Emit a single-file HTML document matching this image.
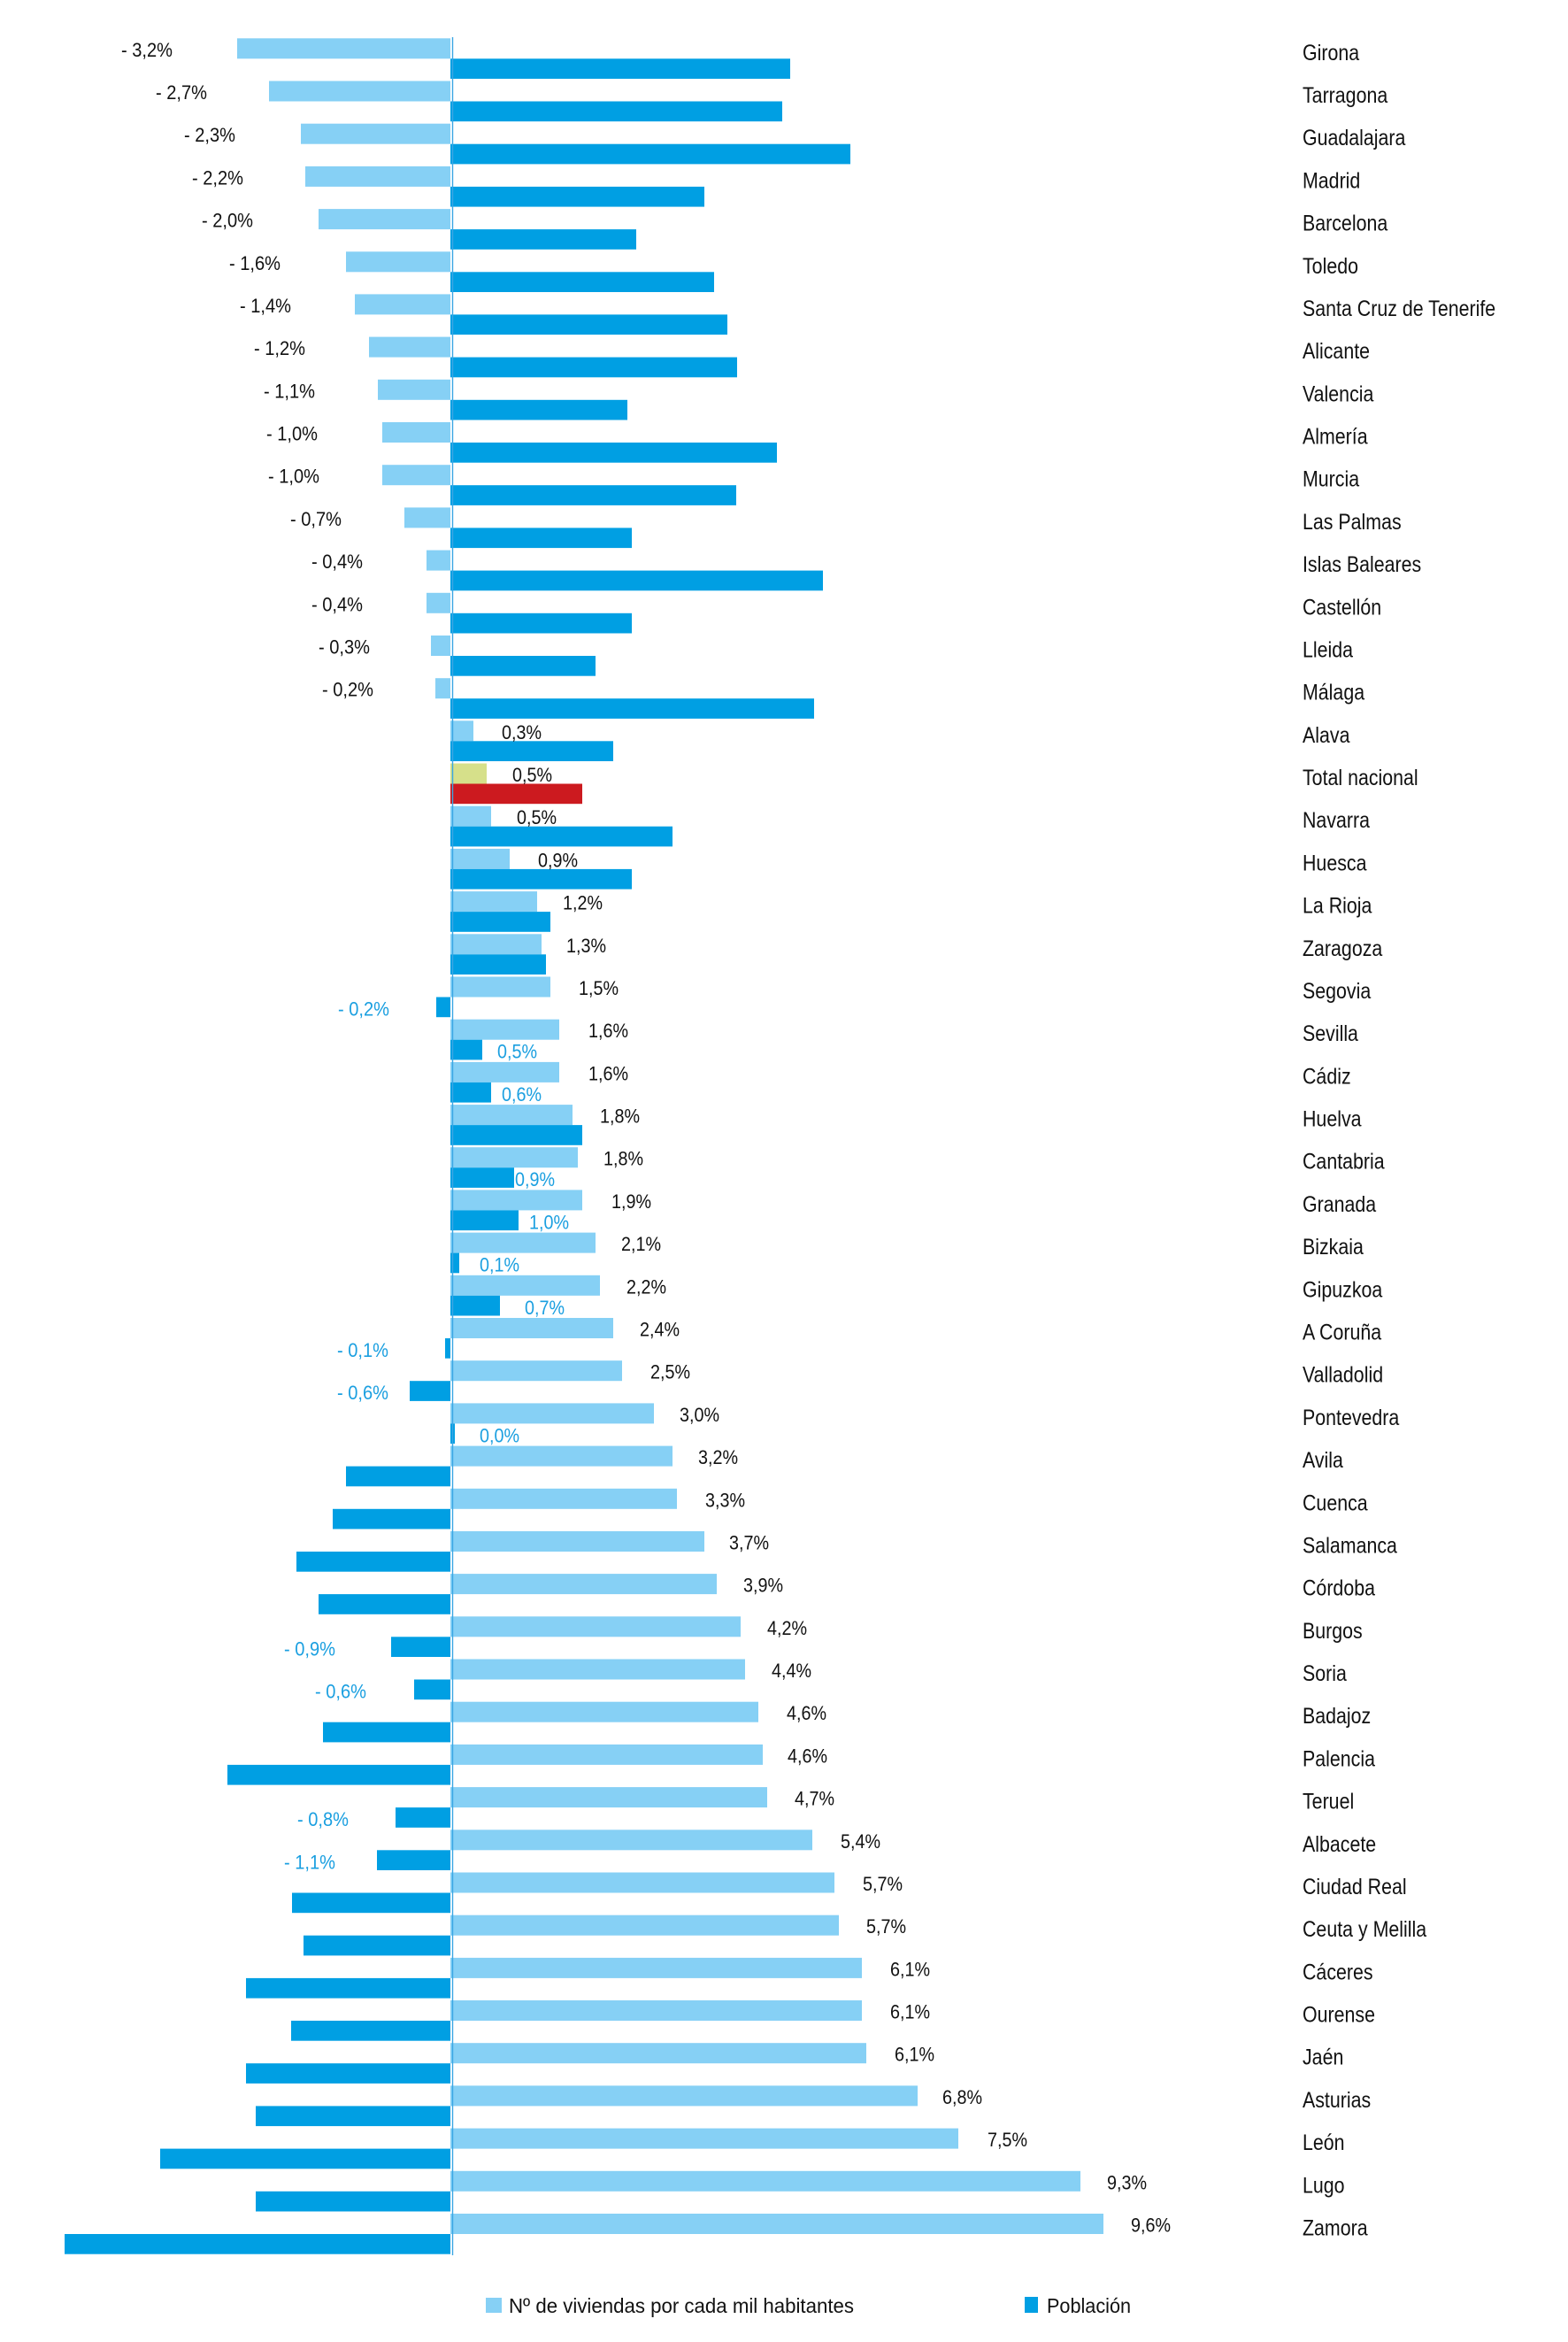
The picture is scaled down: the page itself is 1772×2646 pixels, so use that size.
<!DOCTYPE html>
<html><head><meta charset="utf-8">
<style>
html,body{margin:0;padding:0;background:#fff}
svg{display:block}
.l{fill:#86d0f5}
.d{fill:#009fe3}
.p{font-size:22px;fill:#111}
.b{font-size:22px;fill:#1a9fe0}
.c{font-size:25px;fill:#111}
</style></head>
<body>
<svg width="1772" height="2646" viewBox="0 0 1772 2646" xmlns="http://www.w3.org/2000/svg" font-family="'Liberation Sans', Arial, sans-serif">
<rect width="1772" height="2646" fill="#fff"/>

<g transform="translate(0,43.3)"><rect class="l" x="268" y="0" width="241" height="23"/><rect class="d" x="509" y="23" width="384" height="22.7"/><text class="p" x="195" y="20.5" text-anchor="end" textLength="58" lengthAdjust="spacingAndGlyphs">- 3,2%</text><text class="c" transform="translate(1472,24.5) scale(0.855,1)">Girona</text></g>
<g transform="translate(0,91.5)"><rect class="l" x="304" y="0" width="205" height="23"/><rect class="d" x="509" y="23" width="375" height="22.7"/><text class="p" x="234" y="20.5" text-anchor="end" textLength="58" lengthAdjust="spacingAndGlyphs">- 2,7%</text><text class="c" transform="translate(1472,24.5) scale(0.855,1)">Tarragona</text></g>
<g transform="translate(0,139.7)"><rect class="l" x="340" y="0" width="169" height="23"/><rect class="d" x="509" y="23" width="452" height="22.7"/><text class="p" x="266" y="20.5" text-anchor="end" textLength="58" lengthAdjust="spacingAndGlyphs">- 2,3%</text><text class="c" transform="translate(1472,24.5) scale(0.855,1)">Guadalajara</text></g>
<g transform="translate(0,187.9)"><rect class="l" x="345" y="0" width="164" height="23"/><rect class="d" x="509" y="23" width="287" height="22.7"/><text class="p" x="275" y="20.5" text-anchor="end" textLength="58" lengthAdjust="spacingAndGlyphs">- 2,2%</text><text class="c" transform="translate(1472,24.5) scale(0.855,1)">Madrid</text></g>
<g transform="translate(0,236.1)"><rect class="l" x="360" y="0" width="149" height="23"/><rect class="d" x="509" y="23" width="210" height="22.7"/><text class="p" x="286" y="20.5" text-anchor="end" textLength="58" lengthAdjust="spacingAndGlyphs">- 2,0%</text><text class="c" transform="translate(1472,24.5) scale(0.855,1)">Barcelona</text></g>
<g transform="translate(0,284.3)"><rect class="l" x="391" y="0" width="118" height="23"/><rect class="d" x="509" y="23" width="298" height="22.7"/><text class="p" x="317" y="20.5" text-anchor="end" textLength="58" lengthAdjust="spacingAndGlyphs">- 1,6%</text><text class="c" transform="translate(1472,24.5) scale(0.855,1)">Toledo</text></g>
<g transform="translate(0,332.4)"><rect class="l" x="401" y="0" width="108" height="23"/><rect class="d" x="509" y="23" width="313" height="22.7"/><text class="p" x="329" y="20.5" text-anchor="end" textLength="58" lengthAdjust="spacingAndGlyphs">- 1,4%</text><text class="c" transform="translate(1472,24.5) scale(0.855,1)">Santa Cruz de Tenerife</text></g>
<g transform="translate(0,380.6)"><rect class="l" x="417" y="0" width="92" height="23"/><rect class="d" x="509" y="23" width="324" height="22.7"/><text class="p" x="345" y="20.5" text-anchor="end" textLength="58" lengthAdjust="spacingAndGlyphs">- 1,2%</text><text class="c" transform="translate(1472,24.5) scale(0.855,1)">Alicante</text></g>
<g transform="translate(0,428.8)"><rect class="l" x="427" y="0" width="82" height="23"/><rect class="d" x="509" y="23" width="200" height="22.7"/><text class="p" x="356" y="20.5" text-anchor="end" textLength="58" lengthAdjust="spacingAndGlyphs">- 1,1%</text><text class="c" transform="translate(1472,24.5) scale(0.855,1)">Valencia</text></g>
<g transform="translate(0,477.0)"><rect class="l" x="432" y="0" width="77" height="23"/><rect class="d" x="509" y="23" width="369" height="22.7"/><text class="p" x="359" y="20.5" text-anchor="end" textLength="58" lengthAdjust="spacingAndGlyphs">- 1,0%</text><text class="c" transform="translate(1472,24.5) scale(0.855,1)">Almería</text></g>
<g transform="translate(0,525.2)"><rect class="l" x="432" y="0" width="77" height="23"/><rect class="d" x="509" y="23" width="323" height="22.7"/><text class="p" x="361" y="20.5" text-anchor="end" textLength="58" lengthAdjust="spacingAndGlyphs">- 1,0%</text><text class="c" transform="translate(1472,24.5) scale(0.855,1)">Murcia</text></g>
<g transform="translate(0,573.4)"><rect class="l" x="457" y="0" width="52" height="23"/><rect class="d" x="509" y="23" width="205" height="22.7"/><text class="p" x="386" y="20.5" text-anchor="end" textLength="58" lengthAdjust="spacingAndGlyphs">- 0,7%</text><text class="c" transform="translate(1472,24.5) scale(0.855,1)">Las Palmas</text></g>
<g transform="translate(0,621.6)"><rect class="l" x="482" y="0" width="27" height="23"/><rect class="d" x="509" y="23" width="421" height="22.7"/><text class="p" x="410" y="20.5" text-anchor="end" textLength="58" lengthAdjust="spacingAndGlyphs">- 0,4%</text><text class="c" transform="translate(1472,24.5) scale(0.855,1)">Islas Baleares</text></g>
<g transform="translate(0,669.8)"><rect class="l" x="482" y="0" width="27" height="23"/><rect class="d" x="509" y="23" width="205" height="22.7"/><text class="p" x="410" y="20.5" text-anchor="end" textLength="58" lengthAdjust="spacingAndGlyphs">- 0,4%</text><text class="c" transform="translate(1472,24.5) scale(0.855,1)">Castellón</text></g>
<g transform="translate(0,718.0)"><rect class="l" x="487" y="0" width="22" height="23"/><rect class="d" x="509" y="23" width="164" height="22.7"/><text class="p" x="418" y="20.5" text-anchor="end" textLength="58" lengthAdjust="spacingAndGlyphs">- 0,3%</text><text class="c" transform="translate(1472,24.5) scale(0.855,1)">Lleida</text></g>
<g transform="translate(0,766.2)"><rect class="l" x="492" y="0" width="17" height="23"/><rect class="d" x="509" y="23" width="411" height="22.7"/><text class="p" x="422" y="20.5" text-anchor="end" textLength="58" lengthAdjust="spacingAndGlyphs">- 0,2%</text><text class="c" transform="translate(1472,24.5) scale(0.855,1)">Málaga</text></g>

<g transform="translate(0,814.3)"><rect class="l" x="509" y="0" width="26" height="23"/><rect class="d" x="509" y="23" width="184" height="22.7"/><text class="p" x="567" y="20.5" textLength="45" lengthAdjust="spacingAndGlyphs">0,3%</text><text class="c" transform="translate(1472,24.5) scale(0.855,1)">Alava</text></g>
<g transform="translate(0,862.5)"><rect fill="#d6e08a" x="509" y="0" width="41" height="23"/><rect fill="#cc1a1f" x="509" y="23" width="149" height="22.7"/><text class="p" x="579" y="20.5" textLength="45" lengthAdjust="spacingAndGlyphs">0,5%</text><text class="c" transform="translate(1472,24.5) scale(0.855,1)">Total nacional</text></g>
<g transform="translate(0,910.7)"><rect class="l" x="509" y="0" width="46" height="23"/><rect class="d" x="509" y="23" width="251" height="22.7"/><text class="p" x="584" y="20.5" textLength="45" lengthAdjust="spacingAndGlyphs">0,5%</text><text class="c" transform="translate(1472,24.5) scale(0.855,1)">Navarra</text></g>
<g transform="translate(0,958.9)"><rect class="l" x="509" y="0" width="67" height="23"/><rect class="d" x="509" y="23" width="205" height="22.7"/><text class="p" x="608" y="20.5" textLength="45" lengthAdjust="spacingAndGlyphs">0,9%</text><text class="c" transform="translate(1472,24.5) scale(0.855,1)">Huesca</text></g>
<g transform="translate(0,1007.1)"><rect class="l" x="509" y="0" width="98" height="23"/><rect class="d" x="509" y="23" width="113" height="22.7"/><text class="p" x="636" y="20.5" textLength="45" lengthAdjust="spacingAndGlyphs">1,2%</text><text class="c" transform="translate(1472,24.5) scale(0.855,1)">La Rioja</text></g>
<g transform="translate(0,1055.3)"><rect class="l" x="509" y="0" width="103" height="23"/><rect class="d" x="509" y="23" width="108" height="22.7"/><text class="p" x="640" y="20.5" textLength="45" lengthAdjust="spacingAndGlyphs">1,3%</text><text class="c" transform="translate(1472,24.5) scale(0.855,1)">Zaragoza</text></g>
<g transform="translate(0,1103.5)"><rect class="l" x="509" y="0" width="113" height="23"/><rect class="d" x="493" y="23" width="16" height="22.7"/><text class="p" x="654" y="20.5" textLength="45" lengthAdjust="spacingAndGlyphs">1,5%</text><text class="b" x="440" y="44" text-anchor="end" textLength="58" lengthAdjust="spacingAndGlyphs">- 0,2%</text><text class="c" transform="translate(1472,24.5) scale(0.855,1)">Segovia</text></g>
<g transform="translate(0,1151.7)"><rect class="l" x="509" y="0" width="123" height="23"/><rect class="d" x="509" y="23" width="36" height="22.7"/><text class="p" x="665" y="20.5" textLength="45" lengthAdjust="spacingAndGlyphs">1,6%</text><text class="b" x="562" y="44" textLength="45" lengthAdjust="spacingAndGlyphs">0,5%</text><text class="c" transform="translate(1472,24.5) scale(0.855,1)">Sevilla</text></g>
<g transform="translate(0,1199.9)"><rect class="l" x="509" y="0" width="123" height="23"/><rect class="d" x="509" y="23" width="46" height="22.7"/><text class="p" x="665" y="20.5" textLength="45" lengthAdjust="spacingAndGlyphs">1,6%</text><text class="b" x="567" y="44" textLength="45" lengthAdjust="spacingAndGlyphs">0,6%</text><text class="c" transform="translate(1472,24.5) scale(0.855,1)">Cádiz</text></g>
<g transform="translate(0,1248.1)"><rect class="l" x="509" y="0" width="138" height="23"/><rect class="d" x="509" y="23" width="149" height="22.7"/><text class="p" x="678" y="20.5" textLength="45" lengthAdjust="spacingAndGlyphs">1,8%</text><text class="c" transform="translate(1472,24.5) scale(0.855,1)">Huelva</text></g>
<g transform="translate(0,1296.2)"><rect class="l" x="509" y="0" width="144" height="23"/><rect class="d" x="509" y="23" width="72" height="22.7"/><text class="p" x="682" y="20.5" textLength="45" lengthAdjust="spacingAndGlyphs">1,8%</text><text class="b" x="582" y="44" textLength="45" lengthAdjust="spacingAndGlyphs">0,9%</text><text class="c" transform="translate(1472,24.5) scale(0.855,1)">Cantabria</text></g>
<g transform="translate(0,1344.4)"><rect class="l" x="509" y="0" width="149" height="23"/><rect class="d" x="509" y="23" width="77" height="22.7"/><text class="p" x="691" y="20.5" textLength="45" lengthAdjust="spacingAndGlyphs">1,9%</text><text class="b" x="598" y="44" textLength="45" lengthAdjust="spacingAndGlyphs">1,0%</text><text class="c" transform="translate(1472,24.5) scale(0.855,1)">Granada</text></g>
<g transform="translate(0,1392.6)"><rect class="l" x="509" y="0" width="164" height="23"/><rect class="d" x="509" y="23" width="10" height="22.7"/><text class="p" x="702" y="20.5" textLength="45" lengthAdjust="spacingAndGlyphs">2,1%</text><text class="b" x="542" y="44" textLength="45" lengthAdjust="spacingAndGlyphs">0,1%</text><text class="c" transform="translate(1472,24.5) scale(0.855,1)">Bizkaia</text></g>
<g transform="translate(0,1440.8)"><rect class="l" x="509" y="0" width="169" height="23"/><rect class="d" x="509" y="23" width="56" height="22.7"/><text class="p" x="708" y="20.5" textLength="45" lengthAdjust="spacingAndGlyphs">2,2%</text><text class="b" x="593" y="44" textLength="45" lengthAdjust="spacingAndGlyphs">0,7%</text><text class="c" transform="translate(1472,24.5) scale(0.855,1)">Gipuzkoa</text></g>
<g transform="translate(0,1489.0)"><rect class="l" x="509" y="0" width="184" height="23"/><rect class="d" x="503" y="23" width="6" height="22.7"/><text class="p" x="723" y="20.5" textLength="45" lengthAdjust="spacingAndGlyphs">2,4%</text><text class="b" x="439" y="44" text-anchor="end" textLength="58" lengthAdjust="spacingAndGlyphs">- 0,1%</text><text class="c" transform="translate(1472,24.5) scale(0.855,1)">A Coruña</text></g>
<g transform="translate(0,1537.2)"><rect class="l" x="509" y="0" width="194" height="23"/><rect class="d" x="463" y="23" width="46" height="22.7"/><text class="p" x="735" y="20.5" textLength="45" lengthAdjust="spacingAndGlyphs">2,5%</text><text class="b" x="439" y="44" text-anchor="end" textLength="58" lengthAdjust="spacingAndGlyphs">- 0,6%</text><text class="c" transform="translate(1472,24.5) scale(0.855,1)">Valladolid</text></g>
<g transform="translate(0,1585.4)"><rect class="l" x="509" y="0" width="230" height="23"/><rect class="d" x="509" y="23" width="5" height="22.7"/><text class="p" x="768" y="20.5" textLength="45" lengthAdjust="spacingAndGlyphs">3,0%</text><text class="b" x="542" y="44" textLength="45" lengthAdjust="spacingAndGlyphs">0,0%</text><text class="c" transform="translate(1472,24.5) scale(0.855,1)">Pontevedra</text></g>
<g transform="translate(0,1633.6)"><rect class="l" x="509" y="0" width="251" height="23"/><rect class="d" x="391" y="23" width="118" height="22.7"/><text class="p" x="789" y="20.5" textLength="45" lengthAdjust="spacingAndGlyphs">3,2%</text><text class="c" transform="translate(1472,24.5) scale(0.855,1)">Avila</text></g>
<g transform="translate(0,1681.8)"><rect class="l" x="509" y="0" width="256" height="23"/><rect class="d" x="376" y="23" width="133" height="22.7"/><text class="p" x="797" y="20.5" textLength="45" lengthAdjust="spacingAndGlyphs">3,3%</text><text class="c" transform="translate(1472,24.5) scale(0.855,1)">Cuenca</text></g>
<g transform="translate(0,1730.0)"><rect class="l" x="509" y="0" width="287" height="23"/><rect class="d" x="335" y="23" width="174" height="22.7"/><text class="p" x="824" y="20.5" textLength="45" lengthAdjust="spacingAndGlyphs">3,7%</text><text class="c" transform="translate(1472,24.5) scale(0.855,1)">Salamanca</text></g>
<g transform="translate(0,1778.1)"><rect class="l" x="509" y="0" width="301" height="23"/><rect class="d" x="360" y="23" width="149" height="22.7"/><text class="p" x="840" y="20.5" textLength="45" lengthAdjust="spacingAndGlyphs">3,9%</text><text class="c" transform="translate(1472,24.5) scale(0.855,1)">Córdoba</text></g>
<g transform="translate(0,1826.3)"><rect class="l" x="509" y="0" width="328" height="23"/><rect class="d" x="442" y="23" width="67" height="22.7"/><text class="p" x="867" y="20.5" textLength="45" lengthAdjust="spacingAndGlyphs">4,2%</text><text class="b" x="379" y="44" text-anchor="end" textLength="58" lengthAdjust="spacingAndGlyphs">- 0,9%</text><text class="c" transform="translate(1472,24.5) scale(0.855,1)">Burgos</text></g>
<g transform="translate(0,1874.5)"><rect class="l" x="509" y="0" width="333" height="23"/><rect class="d" x="468" y="23" width="41" height="22.7"/><text class="p" x="872" y="20.5" textLength="45" lengthAdjust="spacingAndGlyphs">4,4%</text><text class="b" x="414" y="44" text-anchor="end" textLength="58" lengthAdjust="spacingAndGlyphs">- 0,6%</text><text class="c" transform="translate(1472,24.5) scale(0.855,1)">Soria</text></g>
<g transform="translate(0,1922.7)"><rect class="l" x="509" y="0" width="348" height="23"/><rect class="d" x="365" y="23" width="144" height="22.7"/><text class="p" x="889" y="20.5" textLength="45" lengthAdjust="spacingAndGlyphs">4,6%</text><text class="c" transform="translate(1472,24.5) scale(0.855,1)">Badajoz</text></g>
<g transform="translate(0,1970.9)"><rect class="l" x="509" y="0" width="353" height="23"/><rect class="d" x="257" y="23" width="252" height="22.7"/><text class="p" x="890" y="20.5" textLength="45" lengthAdjust="spacingAndGlyphs">4,6%</text><text class="c" transform="translate(1472,24.5) scale(0.855,1)">Palencia</text></g>
<g transform="translate(0,2019.1)"><rect class="l" x="509" y="0" width="358" height="23"/><rect class="d" x="447" y="23" width="62" height="22.7"/><text class="p" x="898" y="20.5" textLength="45" lengthAdjust="spacingAndGlyphs">4,7%</text><text class="b" x="394" y="44" text-anchor="end" textLength="58" lengthAdjust="spacingAndGlyphs">- 0,8%</text><text class="c" transform="translate(1472,24.5) scale(0.855,1)">Teruel</text></g>
<g transform="translate(0,2067.3)"><rect class="l" x="509" y="0" width="409" height="23"/><rect class="d" x="426" y="23" width="83" height="22.7"/><text class="p" x="950" y="20.5" textLength="45" lengthAdjust="spacingAndGlyphs">5,4%</text><text class="b" x="379" y="44" text-anchor="end" textLength="58" lengthAdjust="spacingAndGlyphs">- 1,1%</text><text class="c" transform="translate(1472,24.5) scale(0.855,1)">Albacete</text></g>
<g transform="translate(0,2115.5)"><rect class="l" x="509" y="0" width="434" height="23"/><rect class="d" x="330" y="23" width="179" height="22.7"/><text class="p" x="975" y="20.5" textLength="45" lengthAdjust="spacingAndGlyphs">5,7%</text><text class="c" transform="translate(1472,24.5) scale(0.855,1)">Ciudad Real</text></g>
<g transform="translate(0,2163.7)"><rect class="l" x="509" y="0" width="439" height="23"/><rect class="d" x="343" y="23" width="166" height="22.7"/><text class="p" x="979" y="20.5" textLength="45" lengthAdjust="spacingAndGlyphs">5,7%</text><text class="c" transform="translate(1472,24.5) scale(0.855,1)">Ceuta y Melilla</text></g>
<g transform="translate(0,2211.9)"><rect class="l" x="509" y="0" width="465" height="23"/><rect class="d" x="278" y="23" width="231" height="22.7"/><text class="p" x="1006" y="20.5" textLength="45" lengthAdjust="spacingAndGlyphs">6,1%</text><text class="c" transform="translate(1472,24.5) scale(0.855,1)">Cáceres</text></g>
<g transform="translate(0,2260.0)"><rect class="l" x="509" y="0" width="465" height="23"/><rect class="d" x="329" y="23" width="180" height="22.7"/><text class="p" x="1006" y="20.5" textLength="45" lengthAdjust="spacingAndGlyphs">6,1%</text><text class="c" transform="translate(1472,24.5) scale(0.855,1)">Ourense</text></g>
<g transform="translate(0,2308.2)"><rect class="l" x="509" y="0" width="470" height="23"/><rect class="d" x="278" y="23" width="231" height="22.7"/><text class="p" x="1011" y="20.5" textLength="45" lengthAdjust="spacingAndGlyphs">6,1%</text><text class="c" transform="translate(1472,24.5) scale(0.855,1)">Jaén</text></g>
<g transform="translate(0,2356.4)"><rect class="l" x="509" y="0" width="528" height="23"/><rect class="d" x="289" y="23" width="220" height="22.7"/><text class="p" x="1065" y="20.5" textLength="45" lengthAdjust="spacingAndGlyphs">6,8%</text><text class="c" transform="translate(1472,24.5) scale(0.855,1)">Asturias</text></g>
<g transform="translate(0,2404.6)"><rect class="l" x="509" y="0" width="574" height="23"/><rect class="d" x="181" y="23" width="328" height="22.7"/><text class="p" x="1116" y="20.5" textLength="45" lengthAdjust="spacingAndGlyphs">7,5%</text><text class="c" transform="translate(1472,24.5) scale(0.855,1)">León</text></g>
<g transform="translate(0,2452.8)"><rect class="l" x="509" y="0" width="712" height="23"/><rect class="d" x="289" y="23" width="220" height="22.7"/><text class="p" x="1251" y="20.5" textLength="45" lengthAdjust="spacingAndGlyphs">9,3%</text><text class="c" transform="translate(1472,24.5) scale(0.855,1)">Lugo</text></g>
<g transform="translate(0,2501.0)"><rect class="l" x="509" y="0" width="738" height="23"/><rect class="d" x="73" y="23" width="436" height="22.7"/><text class="p" x="1278" y="20.5" textLength="45" lengthAdjust="spacingAndGlyphs">9,6%</text><text class="c" transform="translate(1472,24.5) scale(0.855,1)">Zamora</text></g>

<!-- axis line -->
<rect x="510.8" y="42" width="1.4" height="2506" fill="#3aa6e3"/>

<!-- legend -->
<rect class="l" x="549" y="2596" width="18" height="17"/>
<text x="575" y="2613" font-size="23.5" fill="#111" textLength="390" lengthAdjust="spacingAndGlyphs">Nº de viviendas por cada mil habitantes</text>
<rect class="d" x="1158" y="2595" width="15" height="18"/>
<text x="1183" y="2613" font-size="23.5" fill="#111" textLength="95" lengthAdjust="spacingAndGlyphs">Población</text>
</svg>
</body></html>
